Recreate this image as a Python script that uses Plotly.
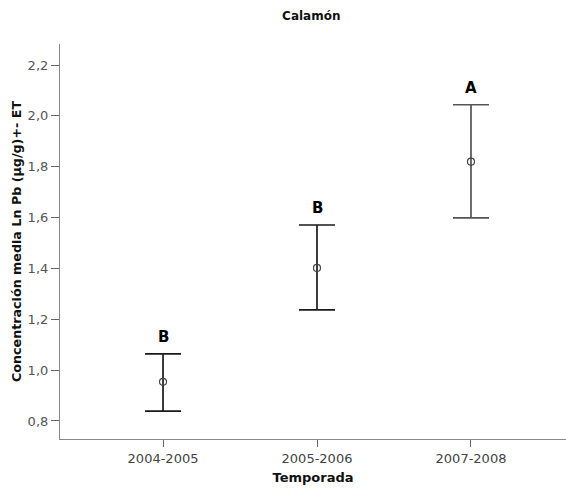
import plotly.graph_objects as go

categories = ["2004-2005", "2005-2006", "2007-2008"]
means = [0.954, 1.402, 1.820]
upper = [1.064, 1.571, 2.044]
lower = [0.839, 1.237, 1.599]
letters = ["B", "B", "A"]
bar_colors = ["#1a1a1a", "#1a1a1a", "#555555"]
yticks = [0.8, 1.0, 1.2, 1.4, 1.6, 1.8, 2.0, 2.2]
ytick_text = ["0,8", "1,0", "1,2", "1,4", "1,6", "1,8", "2,0", "2,2"]

FONT = "DejaVu Sans"

fig = go.Figure()
for i in range(len(categories)):
    fig.add_trace(go.Scatter(
        x=[i], y=[means[i]], mode="markers",
        marker=dict(symbol="circle-open", size=7, color="#444444", line=dict(width=1.2)),
        error_y=dict(type="data", symmetric=False, array=[upper[i] - means[i]],
                     arrayminus=[means[i] - lower[i]],
                     color=bar_colors[i], thickness=1.7, width=18),
        showlegend=False,
    ))

for i, (u, t) in enumerate(zip(upper, letters)):
    fig.add_annotation(x=i, y=u, text="<b>%s</b>" % t, showarrow=False,
                       yshift=17, font=dict(size=15, color="#000000", family=FONT))

fig.update_layout(
    width=566, height=488,
    margin=dict(l=60, r=0, t=44, b=49),
    paper_bgcolor="white", plot_bgcolor="white",
    font=dict(family=FONT, size=13, color="#444444"),
    title=dict(text="<b>Calamón</b>", x=0.55, xanchor="center", y=0.967, yanchor="middle",
               font=dict(size=12, color="#111111", family=FONT)),
)
fig.update_xaxes(
    range=[-0.669, 2.617], tickvals=list(range(len(categories))), ticktext=categories,
    showline=True, linecolor="#888888", linewidth=1.2, ticks="outside", ticklen=7,
    tickcolor="#666666", showgrid=False, zeroline=False,
    tickfont=dict(size=13, color="#444444", family=FONT),
    title=dict(text="<b>Temporada</b>", font=dict(size=13, color="#111111", family=FONT), standoff=8),
)
fig.update_yaxes(
    range=[0.729, 2.283], tickvals=yticks, ticktext=ytick_text,
    showline=True, linecolor="#888888", linewidth=1.2, ticks="outside", ticklen=8,
    tickcolor="#666666", showgrid=False, zeroline=False,
    tickfont=dict(size=13, color="#555555", family=FONT),
    title=dict(text="<b>Concentración media Ln Pb (µg/g)+- ET</b>",
               font=dict(size=12.7, color="#111111", family=FONT), standoff=3),
)

fig.write_html("out.html")
